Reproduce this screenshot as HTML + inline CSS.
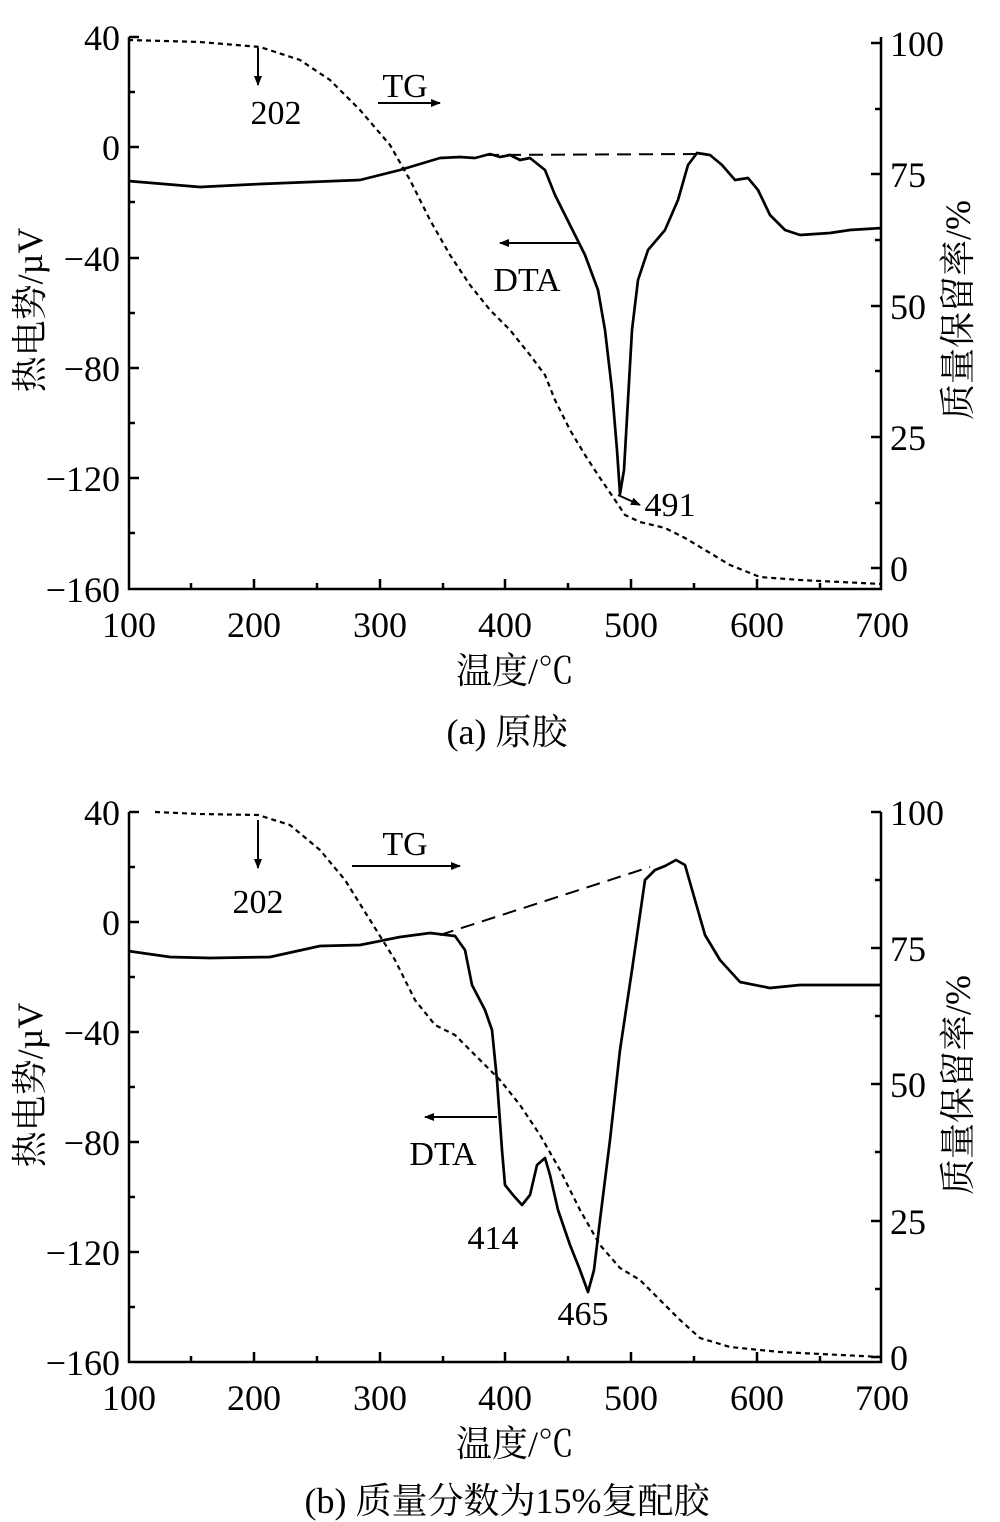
<!DOCTYPE html>
<html><head><meta charset="utf-8"><style>
html,body{margin:0;padding:0;background:#fff}
svg{display:block}
text{font-family:"Liberation Serif","Noto Serif CJK SC","Noto Sans CJK SC",serif;fill:#000}
</style></head><body>
<svg width="1000" height="1522" viewBox="0 0 1000 1522" xmlns="http://www.w3.org/2000/svg">
<defs><marker id="ar" markerWidth="10" markerHeight="8" refX="9" refY="4" orient="auto" markerUnits="userSpaceOnUse"><path d="M0,0 L10,4 L0,8 Z" fill="#000"/></marker></defs>
<g fill="none" stroke="#000" stroke-width="2.5">
<path d="M129,37 V589 H881 V37"/>
<path d="M129,37 h10 M129,147 h10 M129,258 h10 M129,368 h10 M129,478 h10 M129,92 h6 M129,202 h6 M129,313 h6 M129,423 h6 M129,533 h6"/>
<path d="M881,43 h-10 M881,174 h-10 M881,306 h-10 M881,437 h-10 M881,568 h-10 M881,109 h-6 M881,240 h-6 M881,371 h-6 M881,503 h-6"/>
<path d="M254,589 v-10 M380,589 v-10 M505,589 v-10 M631,589 v-10 M757,589 v-10 M191,589 v-6 M317,589 v-6 M443,589 v-6 M568,589 v-6 M694,589 v-6 M820,589 v-6"/>
<path d="M129,812 V1362 H881 V812"/>
<path d="M129,812 h10 M129,922 h10 M129,1032 h10 M129,1142 h10 M129,1252 h10 M129,867 h6 M129,977 h6 M129,1087 h6 M129,1197 h6 M129,1307 h6"/>
<path d="M881,812 h-10 M881,948 h-10 M881,1084 h-10 M881,1221 h-10 M881,1357 h-10 M881,880 h-6 M881,1016 h-6 M881,1152 h-6 M881,1289 h-6"/>
<path d="M254,1362 v-10 M380,1362 v-10 M505,1362 v-10 M631,1362 v-10 M757,1362 v-10 M191,1362 v-6 M317,1362 v-6 M443,1362 v-6 M568,1362 v-6 M694,1362 v-6 M820,1362 v-6"/>
</g>
<g fill="none" stroke="#000" stroke-width="2.7" stroke-linejoin="round">
<polyline points="128,181 200,187 260,184 360,180 400,170 440,158 460,157 475,158 490,154 500,157 510,155 520,160 530,158 545,170 555,195 570,225 585,255 598,290 605,330 612,390 617,450 620,494 624,470 628,400 632,330 638,280 648,250 665,230 678,200 688,165 697,153 710,155 722,165 735,180 748,178 758,190 770,215 785,230 800,235 830,233 850,230 882,228"/>
<polyline points="128,951 170,957 210,958 270,957 320,946 360,945 400,937 430,933 455,936 465,950 472,985 485,1010 492,1030 497,1080 502,1150 505,1185 513,1195 522,1205 530,1195 537,1165 545,1158 550,1175 558,1210 570,1245 580,1270 588,1292 594,1270 600,1220 610,1140 620,1050 632,970 645,880 655,870 665,866 676,860 685,865 695,900 705,935 720,960 740,982 770,988 800,985 882,985"/>
</g>
<g fill="none" stroke="#000" stroke-width="2.2" stroke-dasharray="5,4">
<polyline points="128,40 200,42 260,47 300,60 330,80 360,110 390,145 410,180 430,220 450,255 470,285 490,310 510,330 530,355 545,375 555,400 570,430 585,455 600,478 615,500 625,515 640,522 665,528 685,538 705,550 730,565 760,577 800,580 882,584"/>
<polyline points="155,812 200,814 258,815 290,825 320,850 345,880 370,920 395,960 415,1000 435,1025 455,1035 480,1060 500,1080 520,1105 540,1135 560,1170 580,1210 600,1245 620,1268 640,1280 660,1300 680,1320 700,1338 730,1347 780,1352 882,1357"/>
</g>
<g fill="none" stroke="#000" stroke-width="2" stroke-dasharray="14,8">
<path d="M485,155 L700,154"/>
<path d="M440,935 L650,867"/>
</g>
<g stroke="#000" stroke-width="2" marker-end="url(#ar)">
<path d="M258,48 V85"/><path d="M378,103 H440"/><path d="M578,243 H500"/><path d="M618,495 L640,505"/>
<path d="M258,820 V868"/><path d="M352,866 H460"/><path d="M497,1117 H425"/>
</g>
<g font-size="34">
<text x="276" y="124" text-anchor="middle">202</text>
<text x="405" y="97" text-anchor="middle">TG</text>
<text x="527" y="291" text-anchor="middle">DTA</text>
<text x="670" y="516" text-anchor="middle">491</text>
<text x="258" y="913" text-anchor="middle">202</text>
<text x="405" y="855" text-anchor="middle">TG</text>
<text x="443" y="1165" text-anchor="middle">DTA</text>
<text x="493" y="1249" text-anchor="middle">414</text>
<text x="583" y="1325" text-anchor="middle">465</text>
</g>
<g font-size="36" text-anchor="end">
<text x="120" y="50">40</text><text x="120" y="160">0</text><text x="120" y="271">−40</text><text x="120" y="381">−80</text><text x="120" y="491">−120</text><text x="120" y="602">−160</text>
<text x="120" y="825">40</text><text x="120" y="935">0</text><text x="120" y="1045">−40</text><text x="120" y="1155">−80</text><text x="120" y="1265">−120</text><text x="120" y="1375">−160</text>
</g>
<g font-size="36" text-anchor="start">
<text x="890" y="56">100</text><text x="890" y="187">75</text><text x="890" y="319">50</text><text x="890" y="450">25</text><text x="890" y="581">0</text>
<text x="890" y="825">100</text><text x="890" y="961">75</text><text x="890" y="1097">50</text><text x="890" y="1234">25</text><text x="890" y="1370">0</text>
</g>
<g font-size="36" text-anchor="middle">
<text x="129" y="637">100</text><text x="254" y="637">200</text><text x="380" y="637">300</text><text x="505" y="637">400</text><text x="631" y="637">500</text><text x="757" y="637">600</text><text x="882" y="637">700</text>
<text x="129" y="1410">100</text><text x="254" y="1410">200</text><text x="380" y="1410">300</text><text x="505" y="1410">400</text><text x="631" y="1410">500</text><text x="757" y="1410">600</text><text x="882" y="1410">700</text>
<text x="515" y="683">温度/℃</text>
<text x="507" y="744">(a) 原胶</text>
<text x="515" y="1456">温度/℃</text>
<text x="507" y="1513">(b) 质量分数为15%复配胶</text>
<text transform="translate(42,310) rotate(-90)">热电势/µV</text>
<text transform="translate(42,1085) rotate(-90)">热电势/µV</text>
<text transform="translate(970,310) rotate(-90)">质量保留率/%</text>
<text transform="translate(970,1085) rotate(-90)">质量保留率/%</text>
</g>
</svg>
</body></html>
